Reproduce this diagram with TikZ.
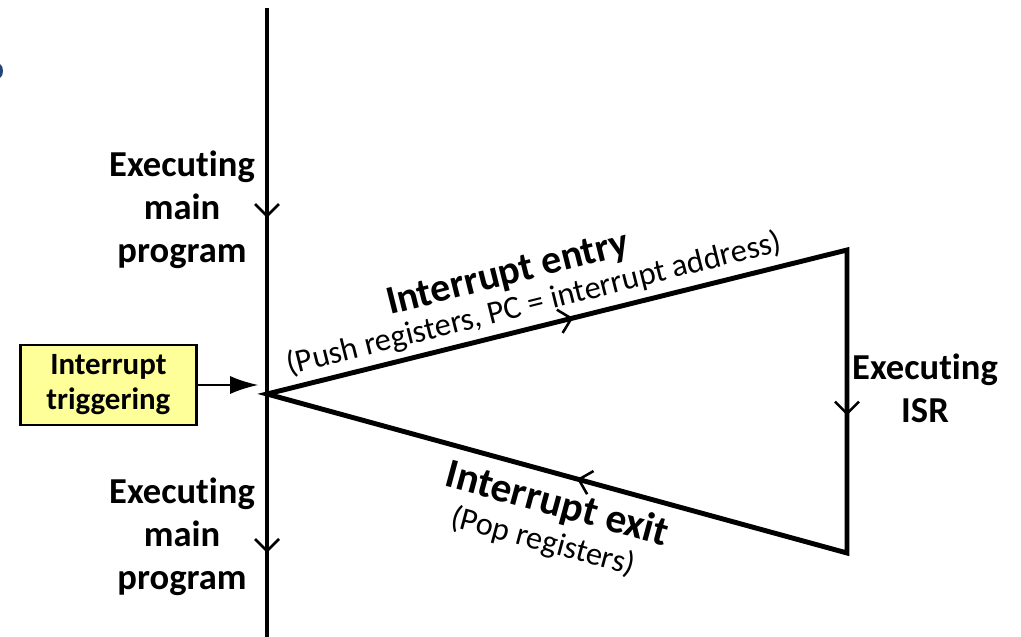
\documentclass[tikz,border=0pt]{standalone}
\usepackage{fontspec}
\setmainfont{Carlito}[Ligatures=NoCommon]
\usepackage{tikz}
\usetikzlibrary{calc, arrows.meta, decorations.markings, positioning}
\usepackage{tkz-euclide}

\definecolor{boxyellow}{RGB}{255,255,153}
\definecolor{parenblue}{RGB}{36,68,118}

\tikzset{
  barb/.tip={Straight Barb[length=3mm, width=6mm, line width=1.8pt]},
  flowline/.style={line width=3.5pt, line join=miter, color=black},
  trigbox/.style={draw, line width=2pt, fill=boxyellow, minimum width=4.4cm,
    minimum height=2cm, inner sep=0pt, align=center,
    font=\fontsize{22}{25}\selectfont\bfseries},
  statelbl/.style={align=center, font=\fontsize{26}{30.6}\selectfont\bfseries},
  steptitle/.style={font=\fontsize{28.5}{30}\selectfont\bfseries},
  stepnote/.style={font=\fontsize{23}{25}\selectfont},
}

\begin{document}
\begin{tikzpicture}[>=latex, scale=1]
\useasboundingbox (0,0) rectangle (25.525,15.9);
\tkzDefPoints{6.675/15.7/T, 6.675/-0.1/B, 6.675/6.05/V, 21.175/9.65/R1, 21.175/2.075/R2}
% main program line
\draw[flowline, postaction={decorate}, decoration={markings,
  mark=at position 0.332 with {\arrow{barb}},
  mark=at position 0.862 with {\arrow{barb}}}] (T) -- (B);
% interrupt loop
\draw[flowline, postaction={decorate}, decoration={markings,
  mark=at position 0.21 with {\arrow{barb}},
  mark=at position 0.508 with {\arrow{barb}},
  mark=at position 0.786 with {\arrow{barb}}}] (V) -- (R1) -- (R2) -- cycle;
\node[trigbox] (trig) at (2.71,6.275) {Interrupt\\triggering};
\draw[-{Latex[length=7mm, width=4.5mm]}, line width=1.4pt, shorten >=0.22cm]
  (trig.east) -- (trig.east -| V);
\node[statelbl] (mainup) at (4.55,10.65) {Executing\\main\\program};
\node[statelbl] (maindown) at (4.55,2.475) {Executing\\main\\program};
\node[statelbl] (isr) at (23.125,6.2) {Executing\\ISR};
\node[steptitle, rotate=14.1] (entry) at (12.7,9.025) {Interrupt entry};
\node[stepnote, rotate=14.1] (entrynote) at (13.35,8.3)
  {(Push registers, PC = interrupt address)};
\node[steptitle, rotate=-15.15, font=\fontsize{29.5}{30}\selectfont\bfseries]
  (exit) at (13.925,3.275) {Interrupt exit};
\node[stepnote, rotate=-15.15] (exitnote) at (13.575,2.35) {(Pop registers)};
\fill[parenblue] (0,14.3) .. controls (0.1,14.25) and (0.1,14.0) .. (0,13.95) -- cycle;
\end{tikzpicture}
\end{document}
